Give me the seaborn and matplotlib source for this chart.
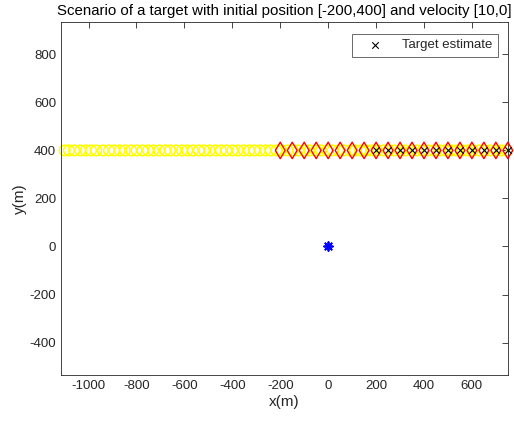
import matplotlib
matplotlib.use("Agg")
import matplotlib.pyplot as plt
import numpy as np
import pandas as pd
import seaborn as sns

# measurement positions (yellow circles)
meas_x = [-1100, -1082, -1060, -1035, -1012, -990, -968, -940, -915, -893,
          -870, -848, -822, -800, -775, -752, -730, -705, -680, -660,
          -636, -610, -588, -565, -540, -518, -495, -470, -448, -425,
          -400, -378, -352, -330, -308, -285, -262, -240, -216, -195,
          -170, -148, -125, -100, -78, -52, -30, -5, 18, 42,
          65, 90, 112, 136, 160, 182, 205, 230, 252, 275,
          300, 322, 348, 370, 395, 418, 440, 465, 488, 512,
          535, 560, 582, 605, 630, 652, 676, 700, 722, 745]
meas_y = [400] * len(meas_x)

# true target track (red diamonds)
track_x = [-200, -150, -100, -50, 0, 50, 100, 150, 200, 250,
           300, 350, 400, 450, 500, 550, 600, 650, 700, 750]
track_y = [400] * len(track_x)

# target estimates (black x)
est_x = [200, 250, 300, 350, 400, 450, 500, 550, 600, 650, 700, 750]
est_y = [400] * len(est_x)

# sensor position
sensor_x = [0]
sensor_y = [0]

sns.set_style("white")
plt.rcParams['font.family'] = ['Liberation Sans', 'DejaVu Sans']
plt.rcParams['axes.unicode_minus'] = False

fig = plt.figure(figsize=(5.14, 4.22), dpi=100)
ax = fig.add_axes([0.1187, 0.1114, 0.8693, 0.8366])

sns.scatterplot(x=meas_x, y=meas_y, ax=ax, marker='o', s=58,
                facecolors='none', edgecolor='#ffff00', linewidth=1.1,
                clip_on=False, zorder=2)
sns.scatterplot(x=track_x, y=track_y, ax=ax, marker='d', s=70,
                facecolors='none', edgecolor='red', linewidth=1.0,
                clip_on=False, zorder=3)
sns.scatterplot(x=est_x, y=est_y, ax=ax, marker='x', s=22,
                color='black', linewidth=0.8, clip_on=False, zorder=4,
                label='Target estimate')
sns.scatterplot(x=sensor_x, y=sensor_y, ax=ax, marker=(8, 2, 0), s=40,
                color='blue', edgecolor='blue', linewidth=1.3, zorder=4)

ax.set_xlim(-1115, 750)
ax.set_ylim(-535, 935)
ax.set_xticks(np.arange(-1000, 601, 200))
ax.set_yticks(np.arange(-400, 801, 200))

for sp in ax.spines.values():
    sp.set_color('#262626')
    sp.set_linewidth(0.6)
ax.tick_params(direction='in', length=4, width=0.6, colors='#262626',
               labelsize=9.5, top=True, right=True, labelcolor='#262626')

ax.set_xlabel('x(m)', fontsize=11, color='#262626', labelpad=2)
ax.set_ylabel('y(m)', fontsize=11, color='#262626', labelpad=2)
ax.set_title('Scenario of a target with initial position [-200,400] and velocity [10,0]',
             fontsize=10.8, color='black', pad=5)

leg = ax.legend(loc='upper right', fancybox=False, edgecolor='#262626',
                fontsize=9.5, borderpad=0.4, handlelength=2.6, handletextpad=0.8,
                bbox_to_anchor=(0.993, 0.985))
leg.get_frame().set_linewidth(0.6)

fig.savefig('out.png', dpi=100)
